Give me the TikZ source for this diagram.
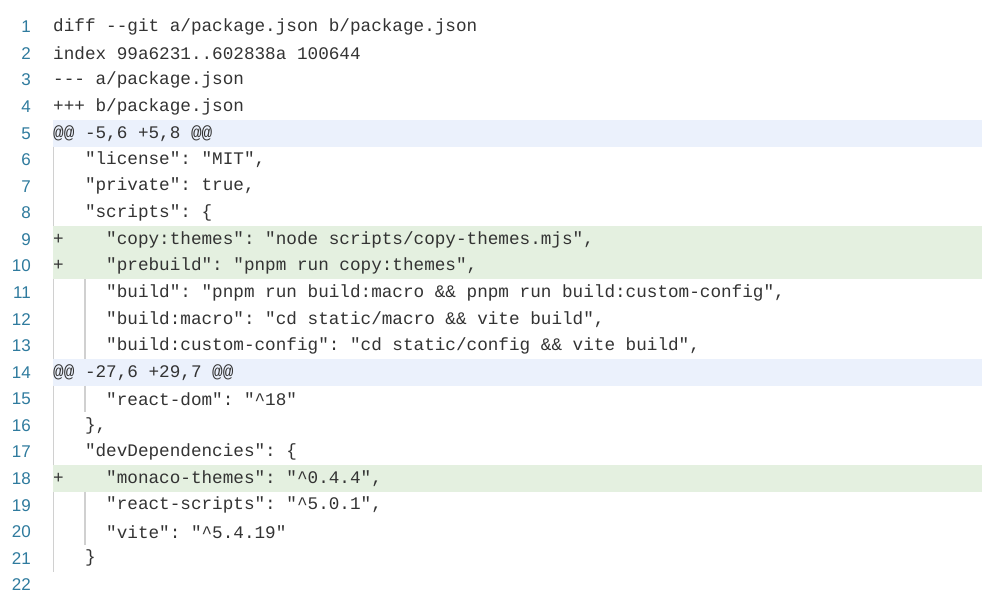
\documentclass[tikz,border=0pt]{standalone}
\usepackage{fontspec}
\setmainfont{Liberation Sans}
\setmonofont{Liberation Mono}
\definecolor{numc}{HTML}{2F7B9E}
\definecolor{codec}{HTML}{333333}
\definecolor{hunkbg}{HTML}{EBF1FC}
\definecolor{addbg}{HTML}{E4F0E0}
\definecolor{guide}{HTML}{D0D0D0}
\begin{document}
\begin{tikzpicture}[x=1pt,y=-1pt,
  num/.style={anchor=east,inner sep=0pt,text=numc,font=\fontsize{17}{17}\selectfont},
  code/.style={anchor=west,inner sep=0pt,text=codec,font=\ttfamily\fontsize{17.67}{17.67}\selectfont},
  guideline/.style={guide,line width=1.2pt}]
\useasboundingbox (0,0) rectangle (999,612);
\fill[white] (0,0) rectangle (999,612);
\def\rowy#1{27+(#1-1)*26.57}
% bands
\foreach \r/\c in {5/hunkbg,14/hunkbg,9/addbg,10/addbg,18/addbg}{
  \fill[\c] (53,{\rowy{\r}-13.3}) rectangle (982,{\rowy{\r}+13.3});
}
% guides
\foreach \r in {6,7,8,11,12,13,15,16,17,19,20,21}{
  \draw[guideline] (53.5,{\rowy{\r}-13.3}) -- (53.5,{\rowy{\r}+13.3});
}
\foreach \r in {11,12,13,15,19,20}{
  \draw[guideline] (85,{\rowy{\r}-13.3}) -- (85,{\rowy{\r}+13.3});
}
% numbers
\foreach \r in {1,...,22}{
  \node[num] (n\r) at (31,{\rowy{\r}}) {\r};
}
% code
\node[code] (c1) at (53,{\rowy{1}}) {diff~--git~a/package.json~b/package.json};
\node[code] (c2) at (53,{\rowy{2}}) {index~99a6231..602838a~100644};
\node[code] (c3) at (53,{\rowy{3}}) {---~a/package.json};
\node[code] (c4) at (53,{\rowy{4}}) {+++~b/package.json};
\node[code] (c5) at (53,{\rowy{5}}) {@@~-5,6~+5,8~@@};
\node[code] (c6) at (53,{\rowy{6}}) {~~~"license":~"MIT",};
\node[code] (c7) at (53,{\rowy{7}}) {~~~"private":~true,};
\node[code] (c8) at (53,{\rowy{8}}) {~~~"scripts":~\{};
\node[code] (c9) at (53,{\rowy{9}}) {+~~~~"copy:themes":~"node~scripts/copy-themes.mjs",};
\node[code] (c10) at (53,{\rowy{10}}) {+~~~~"prebuild":~"pnpm~run~copy:themes",};
\node[code] (c11) at (53,{\rowy{11}}) {~~~~~"build":~"pnpm~run~build:macro~\&\&~pnpm~run~build:custom-config",};
\node[code] (c12) at (53,{\rowy{12}}) {~~~~~"build:macro":~"cd~static/macro~\&\&~vite~build",};
\node[code] (c13) at (53,{\rowy{13}}) {~~~~~"build:custom-config":~"cd~static/config~\&\&~vite~build",};
\node[code] (c14) at (53,{\rowy{14}}) {@@~-27,6~+29,7~@@};
\node[code] (c15) at (53,{\rowy{15}}) {~~~~~"react-dom":~"\textasciicircum 18"};
\node[code] (c16) at (53,{\rowy{16}}) {~~~\},};
\node[code] (c17) at (53,{\rowy{17}}) {~~~"devDependencies":~\{};
\node[code] (c18) at (53,{\rowy{18}}) {+~~~~"monaco-themes":~"\textasciicircum 0.4.4",};
\node[code] (c19) at (53,{\rowy{19}}) {~~~~~"react-scripts":~"\textasciicircum 5.0.1",};
\node[code] (c20) at (53,{\rowy{20}}) {~~~~~"vite":~"\textasciicircum 5.4.19"};
\node[code] (c21) at (53,{\rowy{21}}) {~~~\}};
\end{tikzpicture}
\end{document}
